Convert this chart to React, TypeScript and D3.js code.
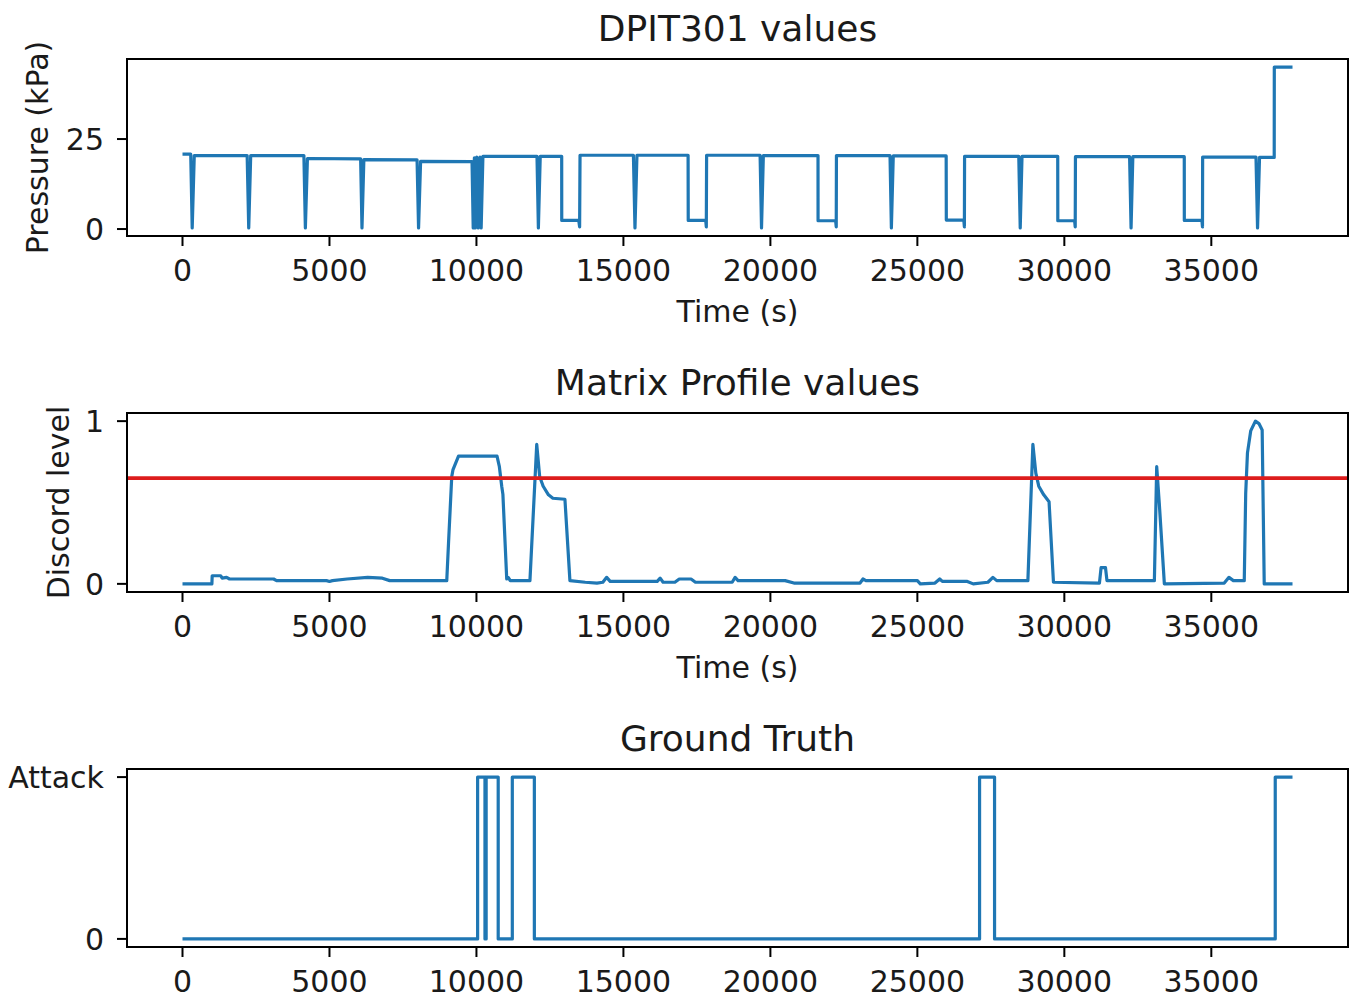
import React from "react";
import * as d3 from "d3";

// ---------- DATA ----------
const xTicks = [0, 5000, 10000, 15000, 20000, 25000, 30000, 35000];

// DPIT301 pressure (kPa): [time s, value]
const pressureSeries: [number, number][] = [
  [0, 20.8], [280, 20.8], [330, 0.3], [400, 20.4],
  [2200, 20.4], [2253, 0.3], [2320, 20.4],
  [4130, 20.4], [4180, 0.3], [4250, 19.6],
  [6060, 19.5], [6106, 0.3], [6170, 19.3],
  [7980, 19.2], [8031, 0.3], [8100, 18.8],
  [9850, 18.7], [9890, 0.3], [9930, 19.8], [9960, 0.3], [10010, 20.0], [10060, 0.3], [10120, 20.0], [10160, 0.3], [10220, 20.2],
  [12060, 20.2], [12107, 0.3], [12170, 20.2],
  [12900, 20.2], [12902, 2.4], [13480, 2.4], [13510, 0.6], [13524, 20.5],
  [15340, 20.5], [15393, 0.3], [15460, 20.5],
  [17200, 20.5], [17205, 2.4], [17800, 2.4], [17820, 0.6], [17830, 20.5],
  [19650, 20.5], [19698, 0.3], [19760, 20.4],
  [21620, 20.4], [21622, 2.3], [22220, 2.3], [22240, 0.6], [22247, 20.4],
  [24070, 20.4], [24116, 0.3], [24180, 20.3],
  [25980, 20.3], [25985, 2.5], [26580, 2.5], [26600, 0.6], [26606, 20.2],
  [28450, 20.2], [28499, 0.3], [28560, 20.2],
  [29775, 20.2], [29778, 2.3], [30350, 2.3], [30370, 0.6], [30378, 20.1],
  [32220, 20.1], [32270, 0.3], [32330, 20.1],
  [34080, 20.1], [34082, 2.4], [34680, 2.4], [34700, 0.6], [34705, 20.0],
  [36520, 20.0], [36573, 0.3], [36640, 19.9],
  [37140, 19.9], [37143, 45.0], [37762, 45.0],
];
const pressureTicks = [0, 25];

// Matrix profile discord level
const discordSeries: [number, number][] = [
  [0, 0.0], [1000, 0.0], [1010, 0.05], [1300, 0.05], [1350, 0.035], [1500, 0.04], [1600, 0.03],
  [3100, 0.03], [3200, 0.02], [4900, 0.02], [5000, 0.015], [5100, 0.02], [5600, 0.03], [6300, 0.04],
  [6800, 0.035], [7050, 0.02], [8990, 0.02], [9050, 0.25], [9160, 0.66], [9200, 0.7], [9390, 0.785],
  [10700, 0.785], [10780, 0.72], [10860, 0.6], [10900, 0.55], [11030, 0.03], [11080, 0.04], [11150, 0.02],
  [11820, 0.02], [12051, 0.857], [12150, 0.66], [12270, 0.6], [12450, 0.547], [12600, 0.526], [13010, 0.52],
  [13180, 0.02], [13700, 0.01], [14100, 0.005], [14300, 0.01], [14430, 0.04], [14550, 0.015], [16150, 0.015],
  [16250, 0.035], [16350, 0.01], [16750, 0.01], [16900, 0.03], [17300, 0.03], [17450, 0.01], [18700, 0.01],
  [18800, 0.04], [18900, 0.02], [20500, 0.02], [20800, 0.005], [23050, 0.005], [23150, 0.03], [23250, 0.02],
  [25000, 0.02], [25100, 0.0], [25600, 0.005], [25760, 0.03], [25850, 0.015], [26700, 0.015], [26900, 0.0],
  [27400, 0.01], [27570, 0.04], [27700, 0.02], [28760, 0.02], [28930, 0.857], [29030, 0.68], [29130, 0.6],
  [29300, 0.547], [29480, 0.505], [29630, 0.01], [31194, 0.005], [31250, 0.1], [31400, 0.1], [31450, 0.02],
  [33063, 0.02], [33142, 0.72], [33230, 0.495], [33403, 0.0], [35441, 0.005], [35600, 0.04], [35750, 0.02],
  [36121, 0.02], [36170, 0.557], [36230, 0.805], [36340, 0.94], [36500, 1.0], [36620, 0.985], [36730, 0.946],
  [36800, 0.0], [37762, 0.0],
];
const discordTicks = [0, 1];
const discordThreshold = 0.65;

// Ground truth (0 = normal, 1 = attack)
const truthSeries: [number, number][] = [
  [0, 0], [10040, 0], [10040, 1], [10290, 1], [10290, 0], [10330, 0], [10330, 1], [10740, 1], [10740, 0],
  [11220, 0], [11220, 1], [11970, 1], [11970, 0],
  [27116, 0], [27116, 1], [27626, 1], [27626, 0],
  [37175, 0], [37175, 1], [37762, 1],
];
const truthTicks = [0, 1];
const truthTickLabels = ["0", "Attack"];

// ---------- LAYOUT ----------
const W = 1357;
const H = 996;
const LEFT = 127;
const RIGHT = 1348;
const FONT = "DejaVu Sans, sans-serif";
const BLUE = "#1f77b4";
const TEXT = "#1a1a1a";

const allX = [...pressureSeries, ...discordSeries, ...truthSeries].map((d) => d[0]);
const [x0, x1] = d3.extent(allX) as [number, number];
const xPad = (x1 - x0) * 0.05;
const x = d3.scaleLinear().domain([x0 - xPad, x1 + xPad]).range([LEFT, RIGHT]);

function padDomain(series: [number, number][]): [number, number] {
  const [a, b] = d3.extent(series, (d) => d[1]) as [number, number];
  const p = (b - a) * 0.05;
  return [a - p, b + p];
}

type PanelProps = {
  id: string;
  top: number;
  bottom: number;
  series: [number, number][];
  yTicks: number[];
  yTickLabels?: string[];
  title: string;
  ylabel?: string;
  ylabelX?: number;
  xlabel?: string;
  threshold?: number;
};

function Panel(p: PanelProps) {
  const y = d3.scaleLinear().domain(padDomain(p.series)).range([p.bottom, p.top]);
  const line = d3
    .line<[number, number]>()
    .x((d) => x(d[0]))
    .y((d) => y(d[1]));
  const cy = (p.top + p.bottom) / 2;
  return (
    <g>
      <defs>
        <clipPath id={p.id}>
          <rect x={LEFT} y={p.top} width={RIGHT - LEFT} height={p.bottom - p.top} />
        </clipPath>
      </defs>
      <g clipPath={`url(#${p.id})`}>
        <path d={line(p.series) || ""} fill="none" stroke={BLUE} strokeWidth={3.2} strokeLinejoin="round" />
        {p.threshold !== undefined && (
          <line x1={LEFT} x2={RIGHT} y1={y(p.threshold)} y2={y(p.threshold)} stroke="#dd1c1c" strokeWidth={3.6} />
        )}
      </g>
      <rect x={LEFT} y={p.top} width={RIGHT - LEFT} height={p.bottom - p.top} fill="none" stroke="#000" strokeWidth={2} />
      {xTicks.map((t) => (
        <g key={t}>
          <line x1={x(t)} x2={x(t)} y1={p.bottom} y2={p.bottom + 10} stroke="#000" strokeWidth={2} />
          <text x={x(t)} y={p.bottom + 45} textAnchor="middle" fontSize={30} fontFamily={FONT} fill={TEXT}>
            {t}
          </text>
        </g>
      ))}
      {p.yTicks.map((t, i) => (
        <g key={t}>
          <line x1={LEFT - 10} x2={LEFT} y1={y(t)} y2={y(t)} stroke="#000" strokeWidth={2} />
          <text x={104} y={y(t) + 11} textAnchor="end" fontSize={30} fontFamily={FONT} fill={TEXT}>
            {p.yTickLabels ? p.yTickLabels[i] : t}
          </text>
        </g>
      ))}
      <text x={(LEFT + RIGHT) / 2} y={p.top - 18} textAnchor="middle" fontSize={36} fontFamily={FONT} fill={TEXT}>
        {p.title}
      </text>
      {p.xlabel && (
        <text x={(LEFT + RIGHT) / 2} y={p.bottom + 86} textAnchor="middle" fontSize={30} fontFamily={FONT} fill={TEXT}>
          {p.xlabel}
        </text>
      )}
      {p.ylabel && (
        <text
          transform={`translate(${p.ylabelX},${cy}) rotate(-90)`}
          textAnchor="middle"
          fontSize={30}
          fontFamily={FONT}
          fill={TEXT}
        >
          {p.ylabel}
        </text>
      )}
    </g>
  );
}

export default function App() {
  return (
    <svg
      width={W}
      height={H}
      viewBox={`0 0 ${W} ${H}`}
      style={{ position: "absolute", left: 0, top: 0, background: "#fff" }}
    >
      <rect width={W} height={H} fill="#fff" />
      <Panel
        id="c1"
        top={59}
        bottom={236}
        series={pressureSeries}
        yTicks={pressureTicks}
        title="DPIT301 values"
        ylabel="Pressure (kPa)"
        ylabelX={48}
        xlabel="Time (s)"
      />
      <Panel
        id="c2"
        top={413}
        bottom={592}
        series={discordSeries}
        yTicks={discordTicks}
        title="Matrix Profile values"
        ylabel="Discord level"
        ylabelX={69}
        xlabel="Time (s)"
        threshold={discordThreshold}
      />
      <Panel
        id="c3"
        top={769}
        bottom={947}
        series={truthSeries}
        yTicks={truthTicks}
        yTickLabels={truthTickLabels}
        title="Ground Truth"
      />
    </svg>
  );
}
